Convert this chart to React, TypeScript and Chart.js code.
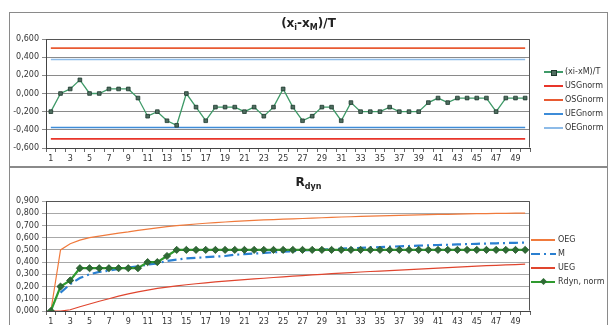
import React, { useEffect, useRef } from 'react';
import { Chart, registerables } from 'chart.js';

Chart.register(...registerables);

// ---------- data ----------
const categories = [
  '1', '2', '3', '4', '5', '6', '7', '8', '9', '10',
  '11', '12', '13', '14', '15', '16', '17', '18', '19', '20',
  '21', '22', '23', '24', '25', '26', '27', '28', '29', '30',
  '31', '32', '33', '34', '35', '36', '37', '38', '39', '40',
  '41', '42', '43', '44', '45', '46', '47', '48', '49', '50',
];

// (xi - xM)/T
const deviation = [
  -0.2, 0, 0.05, 0.15, 0, 0, 0.05, 0.05, 0.05, -0.05,
  -0.25, -0.2, -0.3, -0.35, 0, -0.15, -0.3, -0.15, -0.15, -0.15,
  -0.2, -0.15, -0.25, -0.15, 0.05, -0.15, -0.3, -0.25, -0.15, -0.15,
  -0.3, -0.1, -0.2, -0.2, -0.2, -0.15, -0.2, -0.2, -0.2, -0.1,
  -0.05, -0.1, -0.05, -0.05, -0.05, -0.05, -0.2, -0.05, -0.05, -0.05,
];

const USG_NORM = -0.5;
const OSG_NORM = 0.5;
const UEG_NORM = -0.375;
const OEG_NORM = 0.375;

const rdynNorm = [
  0, 0.2, 0.25, 0.35, 0.35, 0.35, 0.35, 0.35, 0.35, 0.35,
  0.4, 0.4, 0.45, 0.5, 0.5, 0.5, 0.5, 0.5, 0.5, 0.5,
  0.5, 0.5, 0.5, 0.5, 0.5, 0.5, 0.5, 0.5, 0.5, 0.5,
  0.5, 0.5, 0.5, 0.5, 0.5, 0.5, 0.5, 0.5, 0.5, 0.5,
  0.5, 0.5, 0.5, 0.5, 0.5, 0.5, 0.5, 0.5, 0.5, 0.5,
];

const mLine = [
  null, 0.15, 0.22, 0.27, 0.3, 0.32, 0.33, 0.345, 0.355, 0.365,
  0.38, 0.39, 0.41, 0.42, 0.43, 0.435, 0.44, 0.445, 0.45, 0.46,
  0.465, 0.47, 0.475, 0.48, 0.485, 0.49, 0.495, 0.5, 0.503, 0.506,
  0.51, 0.513, 0.516, 0.52, 0.523, 0.526, 0.529, 0.532, 0.535, 0.537,
  0.54, 0.542, 0.545, 0.547, 0.55, 0.552, 0.554, 0.556, 0.558, 0.56,
];

const oeg = [
  0, 0.5, 0.55, 0.58, 0.6, 0.612, 0.625, 0.637, 0.647, 0.66,
  0.67, 0.68, 0.69, 0.698, 0.705, 0.712, 0.718, 0.723, 0.728, 0.733,
  0.737, 0.741, 0.745, 0.748, 0.751, 0.754, 0.757, 0.76, 0.763, 0.766,
  0.769, 0.771, 0.774, 0.776, 0.778, 0.78, 0.782, 0.784, 0.786, 0.788,
  0.79, 0.791, 0.793, 0.795, 0.796, 0.797, 0.798, 0.799, 0.8, 0.801,
];

const ueg = [
  0, 0, 0.01, 0.035, 0.057, 0.08, 0.1, 0.122, 0.14, 0.157,
  0.171, 0.185, 0.196, 0.206, 0.215, 0.223, 0.23, 0.238, 0.245, 0.251,
  0.257, 0.263, 0.268, 0.274, 0.279, 0.285, 0.29, 0.295, 0.3, 0.305,
  0.31, 0.314, 0.319, 0.323, 0.327, 0.331, 0.335, 0.339, 0.343, 0.347,
  0.351, 0.355, 0.359, 0.363, 0.367, 0.371, 0.374, 0.377, 0.38, 0.383,
];

// ---------- styles ----------
const C_DEV = '#3f9a68';
const C_DEV_PT = '#4f6e60';
const C_USG = '#e8352a';
const C_OSG = '#e85a32';
const C_UEG = '#3d8cd8';
const C_OEG = '#8dbbe8';
const C_R_OEG = '#f07a3c';
const C_R_UEG = '#e0452e';
const C_M = '#2a7fd0';
const C_RDYN = '#2f9a2f';
const C_RDYN_PT = '#2e6b34';

const TICK_FONT = { family: 'DejaVu Sans', size: 8 };
const TEXT_COLOR = '#333';

const fmt = (v: number) => {
  const n = Math.abs(v) < 1e-9 ? 0 : v;
  return n.toFixed(3).replace('.', ',');
};

const framePlugin = {
  id: 'frame',
  beforeDatasetsDraw(chart: any) {
    const { ctx, chartArea } = chart;
    ctx.save();
    ctx.strokeStyle = '#555';
    ctx.lineWidth = 1;
    ctx.beginPath();
    const l = Math.round(chartArea.left) + 0.5;
    const r = Math.round(chartArea.right) - 0.5;
    const t = Math.round(chartArea.top) + 0.5;
    const b = Math.round(chartArea.bottom) - 0.5;
    ctx.moveTo(l, t);
    ctx.lineTo(r, t);
    ctx.lineTo(r, b);
    ctx.stroke();
    ctx.restore();
  },
};

function makeScales(yMin: number, yMax: number, step: number, xHeight: number, gridColor: string) {
  return {
    x: {
      type: 'category' as const,
      offset: true,
      grid: { offset: true, drawOnChartArea: false, tickLength: 4, color: '#666' },
      border: { color: '#444' },
      ticks: {
        autoSkip: false,
        maxRotation: 0,
        minRotation: 0,
        padding: 2,
        font: TICK_FONT,
        color: TEXT_COLOR,
        callback: (_v: any, i: number) => (i % 2 === 0 ? categories[i] : ''),
      },
      afterFit: (s: any) => {
        s.height = xHeight;
      },
    },
    y: {
      min: yMin,
      max: yMax,
      ticks: {
        stepSize: step,
        autoSkip: false,
        padding: 3,
        font: TICK_FONT,
        color: TEXT_COLOR,
        callback: (v: any) => fmt(Number(v)),
      },
      grid: { color: gridColor, tickLength: 4 },
      border: { color: '#444' },
      afterFit: (s: any) => {
        s.width = 36;
      },
    },
  };
}

function TopChart() {
  const ref = useRef<HTMLCanvasElement | null>(null);
  useEffect(() => {
    if (!ref.current) return;
    const flat = (v: number) => categories.map(() => v);
    const chart = new Chart(ref.current, {
      type: 'line',
      data: {
        labels: categories,
        datasets: [
          {
            label: '(xi-xM)/T',
            data: deviation,
            borderColor: C_DEV,
            borderWidth: 1.3,
            pointStyle: 'rect',
            pointRadius: 2.6,
            pointBackgroundColor: C_DEV_PT,
            pointBorderColor: '#1e3a2e',
            pointBorderWidth: 0.8,
            tension: 0,
          },
          { label: 'USGnorm', data: flat(USG_NORM), borderColor: C_USG, borderWidth: 1.6, pointRadius: 0 },
          { label: 'OSGnorm', data: flat(OSG_NORM), borderColor: C_OSG, borderWidth: 1.6, pointRadius: 0 },
          { label: 'UEGnorm', data: flat(UEG_NORM), borderColor: C_UEG, borderWidth: 1.4, pointRadius: 0 },
          { label: 'OEGnorm', data: flat(OEG_NORM), borderColor: C_OEG, borderWidth: 1.4, pointRadius: 0 },
        ],
      },
      options: {
        animation: false,
        responsive: false,
        maintainAspectRatio: false,
        layout: { padding: { left: 0, top: 26, right: 76, bottom: 0 } },
        plugins: { legend: { display: false }, title: { display: false }, tooltip: { enabled: false } },
        scales: makeScales(-0.6, 0.6, 0.2, 17, '#8a8a8a') as any,
      },
      plugins: [framePlugin],
    });
    return () => chart.destroy();
  }, []);
  return (
    <canvas
      ref={ref}
      width={596}
      height={152}
      style={{ position: 'absolute', left: 10, top: 13, width: 596, height: 152 }}
    />
  );
}

function BottomChart() {
  const ref = useRef<HTMLCanvasElement | null>(null);
  useEffect(() => {
    if (!ref.current) return;
    const chart = new Chart(ref.current, {
      type: 'line',
      data: {
        labels: categories,
        datasets: [
          {
            label: 'Rdyn, norm',
            data: rdynNorm,
            borderColor: C_RDYN,
            borderWidth: 2.2,
            pointStyle: 'rectRot',
            pointRadius: 3.6,
            pointBackgroundColor: C_RDYN_PT,
            pointBorderColor: '#24552a',
            pointBorderWidth: 0.8,
            tension: 0,
          },
          {
            label: 'M',
            data: mLine,
            borderColor: C_M,
            borderWidth: 2.2,
            borderDash: [9, 4, 2, 4],
            pointRadius: 0,
            spanGaps: false,
          },
          { label: 'OEG', data: oeg, borderColor: C_R_OEG, borderWidth: 1.2, pointRadius: 0 },
          { label: 'UEG', data: ueg, borderColor: C_R_UEG, borderWidth: 1.2, pointRadius: 0 },
        ],
      },
      options: {
        animation: false,
        responsive: false,
        maintainAspectRatio: false,
        layout: { padding: { left: 0, top: 33, right: 76, bottom: 0 } },
        plugins: { legend: { display: false }, title: { display: false }, tooltip: { enabled: false } },
        scales: makeScales(0, 0.9, 0.1, 14, '#a8a8a8') as any,
      },
      plugins: [framePlugin],
    });
    return () => chart.destroy();
  }, []);
  return (
    <canvas
      ref={ref}
      width={596}
      height={157}
      style={{ position: 'absolute', left: 10, top: 168, width: 596, height: 157 }}
    />
  );
}

const legendText: React.CSSProperties = {
  position: 'absolute',
  fontFamily: 'DejaVu Sans',
  fontSize: 8,
  color: '#333',
  lineHeight: '10px',
  whiteSpace: 'nowrap',
};

function LineSample(props: { x: number; y: number; w: number; color: string; h?: number }) {
  const h = props.h ?? 1.5;
  return (
    <div
      style={{
        position: 'absolute',
        left: props.x,
        top: props.y - h / 2,
        width: props.w,
        height: h,
        background: props.color,
      }}
    />
  );
}

function TopLegend() {
  const items = [
    { label: '(xi-xM)/T', color: C_DEV, marker: true },
    { label: 'USGnorm', color: C_USG },
    { label: 'OSGnorm', color: C_OSG },
    { label: 'UEGnorm', color: C_UEG },
    { label: 'OEGnorm', color: C_OEG },
  ];
  return (
    <>
      {items.map((it, i) => {
        const y = 72 + i * 14;
        return (
          <React.Fragment key={it.label}>
            <LineSample x={544} y={y} w={19} color={it.color} h={it.marker ? 1.3 : 1.6} />
            {it.marker ? (
              <div
                style={{
                  position: 'absolute',
                  left: 551,
                  top: y - 2.5,
                  width: 4,
                  height: 4,
                  background: C_DEV_PT,
                  border: '0.8px solid #1e3a2e',
                }}
              />
            ) : null}
            <div style={{ ...legendText, left: 565, top: y - 5 }}>{it.label}</div>
          </React.Fragment>
        );
      })}
    </>
  );
}

function BottomLegend() {
  return (
    <>
      <LineSample x={531} y={240} w={24} color={C_R_OEG} h={1.3} />
      <div style={{ ...legendText, left: 558, top: 235 }}>OEG</div>
      <svg style={{ position: 'absolute', left: 531, top: 252 }} width={25} height={4}>
        <line x1={0} y1={2} x2={25} y2={2} stroke={C_M} strokeWidth={2.2} strokeDasharray="9 4 2 4" />
      </svg>
      <div style={{ ...legendText, left: 558, top: 249 }}>M</div>
      <LineSample x={531} y={268} w={24} color={C_R_UEG} h={1.3} />
      <div style={{ ...legendText, left: 558, top: 263 }}>UEG</div>
      <LineSample x={531} y={282} w={24} color={C_RDYN} h={2.2} />
      <div
        style={{
          position: 'absolute',
          left: 541,
          top: 279,
          width: 5,
          height: 5,
          background: C_RDYN_PT,
          transform: 'rotate(45deg)',
        }}
      />
      <div style={{ ...legendText, left: 558, top: 277 }}>Rdyn, norm</div>
    </>
  );
}

const titleStyle: React.CSSProperties = {
  position: 'absolute',
  left: 9,
  width: 599,
  textAlign: 'center',
  fontFamily: 'DejaVu Sans',
  fontWeight: 'bold',
  fontSize: 12,
  color: '#222',
  lineHeight: '16px',
};

const subStyle: React.CSSProperties = {
  fontSize: 8,
  position: 'relative',
  top: 3,
};

export default function App() {
  return (
    <div
      style={{
        position: 'fixed',
        left: 0,
        top: 0,
        width: 614,
        height: 325,
        background: '#fff',
        overflow: 'hidden',
      }}
    >
      <div
        style={{
          position: 'absolute',
          left: 9,
          top: 12,
          width: 599,
          height: 155,
          boxSizing: 'border-box',
          border: '1px solid #8a8a8a',
        }}
      />
      <div
        style={{
          position: 'absolute',
          left: 9,
          top: 167,
          width: 599,
          height: 170,
          boxSizing: 'border-box',
          border: '1px solid #8a8a8a',
        }}
      />
      <TopChart />
      <BottomChart />
      <div style={{ ...titleStyle, top: 15 }}>
        (x<span style={subStyle}>i</span>-x<span style={subStyle}>M</span>)/T
      </div>
      <div style={{ ...titleStyle, top: 174 }}>
        R<span style={subStyle}>dyn</span>
      </div>
      <TopLegend />
      <BottomLegend />
    </div>
  );
}
